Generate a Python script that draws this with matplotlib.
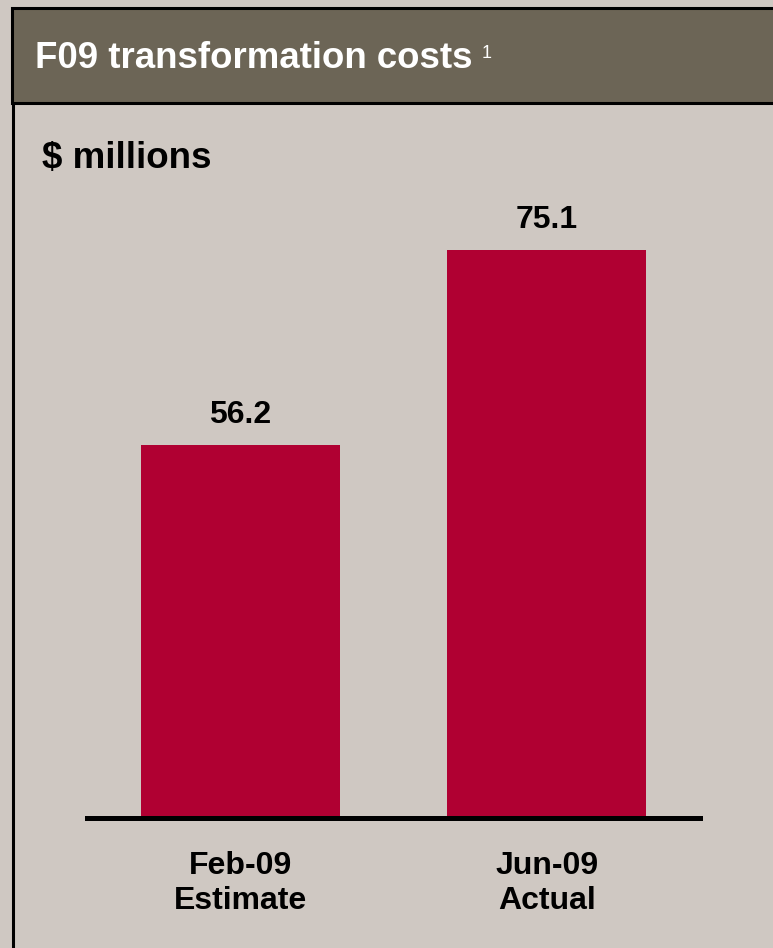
import matplotlib
matplotlib.use("Agg")
import matplotlib.pyplot as plt
from matplotlib.patches import Rectangle
from matplotlib.lines import Line2D

# data
categories = ["Feb-09\nEstimate", "Jun-09\nActual"]
values = [56.2, 75.1]
value_labels = ["56.2", "75.1"]
title = "F09 transformation costs"
unit = "$ millions"

W, H = 773, 948
BG = "#CFC8C2"
HEAD = "#6C6556"
BAR = "#B00032"

plt.rcParams['font.family'] = ['Liberation Sans', 'DejaVu Sans']
plt.rcParams['font.weight'] = 'bold'

fig = plt.figure(figsize=(W / 100, H / 100), dpi=100, facecolor=BG)

def fx(px):
    return px / W

def fy(py):
    return 1 - py / H

# header box and body border
fig.patches.append(Rectangle((fx(12), fy(103)), fx(800), (95) / H, transform=fig.transFigure,
                             facecolor=HEAD, edgecolor="black", lw=2.2, zorder=1))
fig.lines.append(Line2D([fx(12.5), fx(12.5)], [fy(103), fy(960)], transform=fig.transFigure,
                        color="black", lw=2.2, zorder=1))

t = fig.text(fx(35), fy(68), title, color="white", fontsize=26.4, fontweight="bold",
             ha="left", va="baseline", zorder=3)
fig.canvas.draw()
bb = t.get_window_extent()
fig.text(bb.x1 / W + fx(9), fy(58), "1", color="white", fontsize=13, fontweight="normal",
         ha="left", va="baseline", zorder=3)

fig.text(fx(42), fy(168), unit, color="black", fontsize=26.5, fontweight="bold",
         ha="left", va="baseline")

# chart area
ax_bottom, ax_top = 818, 150
scale = 10.32
v0 = 20.06
ax = fig.add_axes([fx(87), fy(ax_bottom), fx(700) - fx(87), (ax_bottom - ax_top) / H])
ax.set_facecolor("none")
x = range(len(categories))
ax.bar(x, values, width=0.65, color=BAR, zorder=2)
ax.set_xlim(-0.5, 1.5)
ax.set_ylim(v0, v0 + (ax_bottom - ax_top) / scale)
for xi, v, lab in zip(x, values, value_labels):
    ax.annotate(lab, (xi, v), xytext=(0, 16), textcoords="offset points",
                ha="center", va="baseline", fontsize=23, fontweight="bold")

for s in ["top", "right", "left"]:
    ax.spines[s].set_visible(False)
ax.spines["bottom"].set_linewidth(3.6)
ax.spines["bottom"].set_zorder(3)
ax.set_yticks([])
ax.set_xticks(list(x))
ax.set_xticklabels(categories, fontsize=23, fontweight="bold", linespacing=1.2)
ax.tick_params(axis="x", length=0, pad=24)

fig.savefig("out.png", dpi=100, facecolor=BG)
